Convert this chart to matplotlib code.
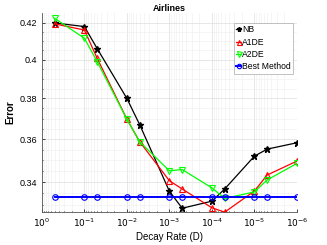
import numpy as np
import matplotlib
matplotlib.use('Agg')
import matplotlib.pyplot as plt
from matplotlib.ticker import FixedLocator, FixedFormatter, LogLocator, NullFormatter

# decay rates (x)
decay = [5e-1, 1e-1, 5e-2, 1e-2, 5e-3, 1e-3, 5e-4, 1e-4, 5e-5, 1e-5, 5e-6, 1e-6]

nb = [0.420, 0.418, 0.406, 0.380, 0.367, 0.336, 0.3285, 0.3316, 0.337, 0.352, 0.3553, 0.3583]
a1de = [0.4195, 0.4161, 0.4008, 0.3697, 0.3588, 0.3407, 0.337, 0.3287, 0.3268, 0.3361, 0.3433, 0.3497]
a2de = [0.4226, 0.4116, 0.399, 0.3697, 0.3588, 0.3452, 0.3458, 0.3375, 0.3328, 0.3357, 0.3411, 0.3486]
best = [0.3334] * 12

ytick_vals = [0.34, 0.36, 0.38, 0.40, 0.42]
ytick_labels = ['0.34', '0.36', '0.38', '0.4', '0.42']
xtick_vals = [1e0, 1e-1, 1e-2, 1e-3, 1e-4, 1e-5, 1e-6]
xtick_labels = [r'$10^{0}$', r'$10^{-1}$', r'$10^{-2}$', r'$10^{-3}$', r'$10^{-4}$', r'$10^{-5}$', r'$10^{-6}$']

plt.rcParams['font.family'] = ['Liberation Sans Narrow', 'Liberation Sans', 'DejaVu Sans']
plt.rcParams['mathtext.fontset'] = 'custom'
plt.rcParams['mathtext.rm'] = 'Liberation Sans Narrow'
plt.rcParams['mathtext.it'] = 'Liberation Sans Narrow'

fig = plt.figure(figsize=(3.27, 2.45), dpi=100)
ax = fig.add_axes([0.128, 0.135, 0.78, 0.812])

ax.plot(decay, nb, '-*', color='black', lw=0.9, ms=4.5, label='NB')
ax.plot(decay, a1de, '-^', color='red', lw=0.9, ms=4.5, mfc='none', mew=0.8, label='A1DE')
ax.plot(decay, a2de, '-v', color='#00ff00', lw=0.9, ms=4.5, mfc='none', mew=0.8, label='A2DE')
ax.plot(decay, best, '-o', color='blue', lw=1.4, ms=4, mfc='none', mew=0.8, label='Best Method')

ax.set_xscale('log')
ax.set_yscale('log')
ax.set_xlim(1, 1e-6)
ax.set_ylim(0.3269, 0.4256)

ax.xaxis.set_major_locator(FixedLocator(xtick_vals))
ax.xaxis.set_major_formatter(FixedFormatter(xtick_labels))
ax.xaxis.set_minor_locator(LogLocator(base=10, subs=np.arange(2, 10)))
ax.xaxis.set_minor_formatter(NullFormatter())
ax.yaxis.set_major_locator(FixedLocator(ytick_vals))
ax.yaxis.set_major_formatter(FixedFormatter(ytick_labels))
ax.yaxis.set_minor_locator(FixedLocator(np.arange(0.33, 0.425, 0.005)))
ax.yaxis.set_minor_formatter(NullFormatter())

ax.grid(True, which='major', color='#dddddd', lw=0.5)
ax.grid(True, which='minor', color='#eeeeee', lw=0.4)
ax.set_axisbelow(True)
ax.tick_params(which='both', direction='in', labelsize=6.5, length=2, width=0.5)
ax.tick_params(which='minor', length=1)
for s in ['top', 'right']:
    ax.spines[s].set_visible(False)
for s in ['left', 'bottom']:
    ax.spines[s].set_linewidth(0.6)
    ax.spines[s].set_color('#555555')

ax.set_title('Airlines', fontsize=6.5, fontweight='bold', pad=0.5)
ax.set_xlabel('Decay Rate (D)', fontsize=7, labelpad=2)
ax.set_ylabel('Error', fontsize=7, fontweight='bold', labelpad=3)

leg = ax.legend(loc='upper right', bbox_to_anchor=(0.985, 0.95), fontsize=6.2, handlelength=0.6,
                handletextpad=0.1, borderpad=0.25, labelspacing=0.4, borderaxespad=0,
                fancybox=False, framealpha=1, edgecolor='#aaaaaa', markerscale=0.8)
leg.get_frame().set_linewidth(0.5)

plt.savefig('out.png', dpi=100)
